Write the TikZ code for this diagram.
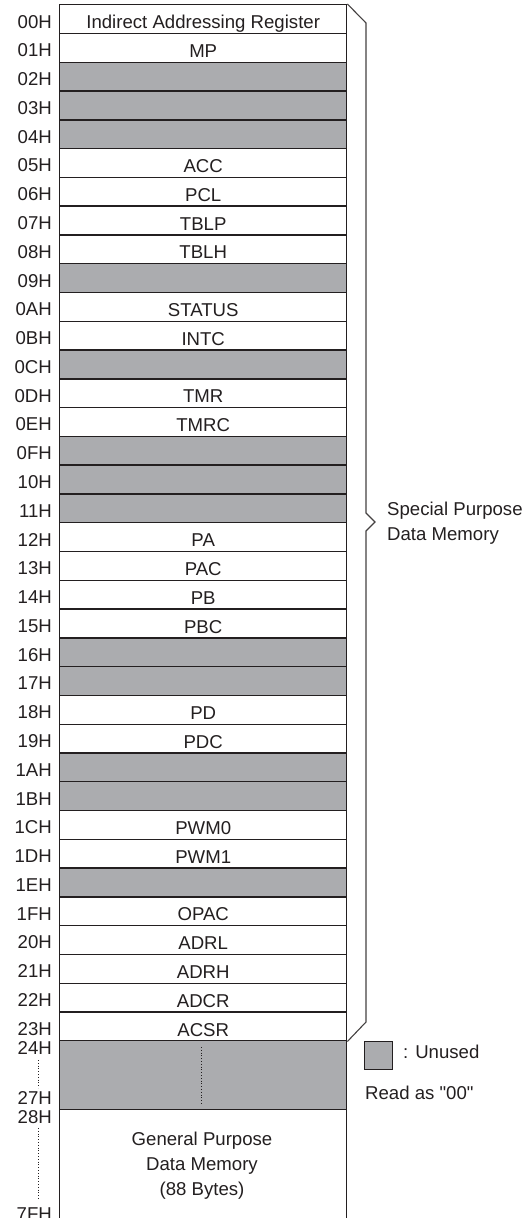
\documentclass[tikz,border=0pt]{standalone}
\usepackage{fontspec}
\setmainfont{Liberation Sans}
\font\rawsans="Liberation Sans" at 18.6pt
\definecolor{unused}{HTML}{ABACAF}
\definecolor{ink}{HTML}{231F20}
\begin{document}
\begin{tikzpicture}[x=1pt,y=-1pt,
  every node/.style={font=\fontsize{18.6}{25}\selectfont, text=ink},
  row/.style={draw=ink, line width=1.4pt, inner sep=0pt, minimum width=287pt,
    text height=24pt, text depth=4.78pt, anchor=north west},
  addr/.style={anchor=base east, inner sep=0pt},
  brace/.style={draw=ink!85, line width=1.1pt, line join=miter},
  dots/.style={draw=ink, line width=0.8pt, dotted}]
\useasboundingbox (0,0) rectangle (528,1218);
\clip (0,0) rectangle (528,1218);
\foreach \a/\t/\f [count=\i from 0] in {
  00H/{Indirect Addressing Register}/white, 01H/MP/white, 02H/{}/unused, 03H/{}/unused,
  04H/{}/unused, 05H/ACC/white, 06H/PCL/white, 07H/TBLP/white, 08H/TBLH/white,
  09H/{}/unused, 0AH/STATUS/white, 0BH/INTC/white, 0CH/{}/unused, 0DH/TMR/white,
  0EH/TMRC/white, 0FH/{}/unused, 10H/{}/unused, 11H/{}/unused, 12H/PA/white,
  13H/PAC/white, 14H/PB/white, 15H/PBC/white, 16H/{}/unused, 17H/{}/unused,
  18H/PD/white, 19H/PDC/white, 1AH/{}/unused, 1BH/{}/unused, 1CH/PWM0/white,
  1DH/PWM1/white, 1EH/{}/unused, 1FH/OPAC/white, 20H/ADRL/white, 21H/ADRH/white,
  22H/ADCR/white, 23H/ACSR/white}{
  \node[row, fill=\f] (r\i) at (59,{4+\i*28.78}) {\t};
  \node[addr] (a\i) at (52,{28+\i*28.78}) {\a};
}
% unused block 24H-27H
\node[row, fill=unused, text height=0pt, text depth=0pt, minimum height=69pt] (u) at (59,1040) {};
\draw[dots] (201,1047) -- (201,1105);
% general purpose block
\node[row, fill=white, text height=0pt, text depth=0pt, minimum height=125pt] (gp) at (59,1109) {};
\node[align=center, inner sep=0pt] (gpt) at (202,1166) {General Purpose\\Data Memory\\(88 Bytes)};
% address labels of the lower blocks
\node[addr] (a24) at (52,1054.5) {24H};
\node[addr] (a27) at (52,1104.5) {27H};
\node[addr] (a28) at (52,1123.5) {28H};
\node[addr] (a7f) at (52,1220.5) {7FH};
\draw[dots] (38,1060) -- (38,1088);
\draw[dots] (38,1128) -- (38,1200);
% brace
\coordinate (bt) at (366,23);
\coordinate (tip) at (375,522);
\coordinate (bb) at (366,1022);
\draw[brace] (r0.north east) -- (bt) -- (366,513) -- (tip) -- (366,531) -- (bb) -- (r35.south east);
\node[align=left, anchor=west, inner sep=0pt] (spd) at (387,523.6) {Special Purpose\\Data Memory};
% legend
\node[draw=ink, line width=1.3pt, fill=unused, minimum width=28pt, minimum height=28pt, inner sep=0pt, anchor=north west] (lg) at (364,1041) {};
\node[anchor=base west, inner sep=0pt] (lgt) at (403,1058.5) {: Unused};
\node[anchor=base west, inner sep=0pt] (rd) at (365,1099.5) {\rawsans Read as "00"};
\end{tikzpicture}
\end{document}
